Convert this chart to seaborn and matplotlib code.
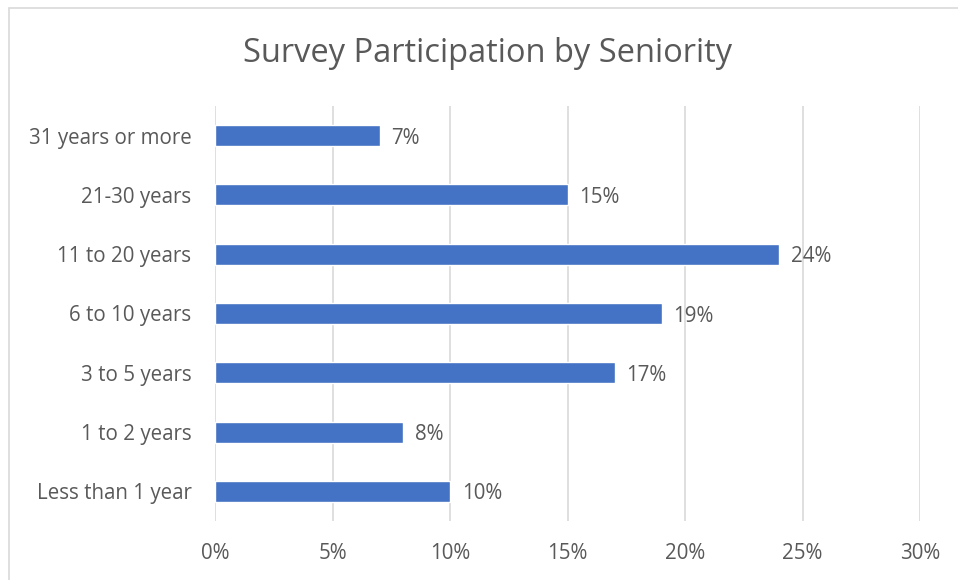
import matplotlib
matplotlib.use("Agg")
import matplotlib.pyplot as plt
import seaborn as sns
import pandas as pd
from matplotlib.patches import Rectangle
from matplotlib.ticker import FuncFormatter

categories = ["31 years or more", "21-30 years", "11 to 20 years", "6 to 10 years",
              "3 to 5 years", "1 to 2 years", "Less than 1 year"]
values = [7, 15, 24, 19, 17, 8, 10]
x_ticks = [0, 5, 10, 15, 20, 25, 30]

df = pd.DataFrame({"cat": categories, "val": values})

sns.set_theme(style="white")
plt.rcParams['font.family'] = ['Open Sans', 'DejaVu Sans']
text_color = "#595959"

fig = plt.figure(figsize=(9.58, 5.80), dpi=100)
ax = fig.add_axes([215/958, 1-521/580, (920-215)/958, (521-106)/580])

sns.barplot(data=df, x="val", y="cat", order=categories, color="#4472C4",
            width=0.355, saturation=1, ax=ax, zorder=3)

ax.set_xlim(0, 30)
ax.set_xticks(x_ticks)
ax.xaxis.set_major_formatter(FuncFormatter(lambda v, p: f"{int(v)}%"))
ax.grid(axis="x", color="#D9D9D9", linewidth=1.2, zorder=0)
ax.set_axisbelow(True)
for s in ax.spines.values():
    s.set_visible(False)
ax.set_xlabel("")
ax.set_ylabel("")
ax.tick_params(axis="both", length=0, labelsize=14.8, colors=text_color)
ax.tick_params(axis="x", pad=16)
ax.tick_params(axis="y", pad=17)
for lab in ax.get_yticklabels():
    lab.set_verticalalignment("center_baseline")

for i, v in enumerate(values):
    ax.text(v + 0.5, i, f"{v}%", va="center_baseline", ha="left", fontsize=14.8, color=text_color)

fig.text(488/958, 1-50/580, "Survey Participation by Seniority", ha="center", va="center_baseline",
         fontsize=23.5, color=text_color)

fig.patches.append(Rectangle((8.5/958, -0.1), 1.2, 1.1 - 7.5/580, transform=fig.transFigure,
                             fill=False, edgecolor="#D9D9D9", linewidth=1.2))

fig.savefig("out.png", dpi=100)
